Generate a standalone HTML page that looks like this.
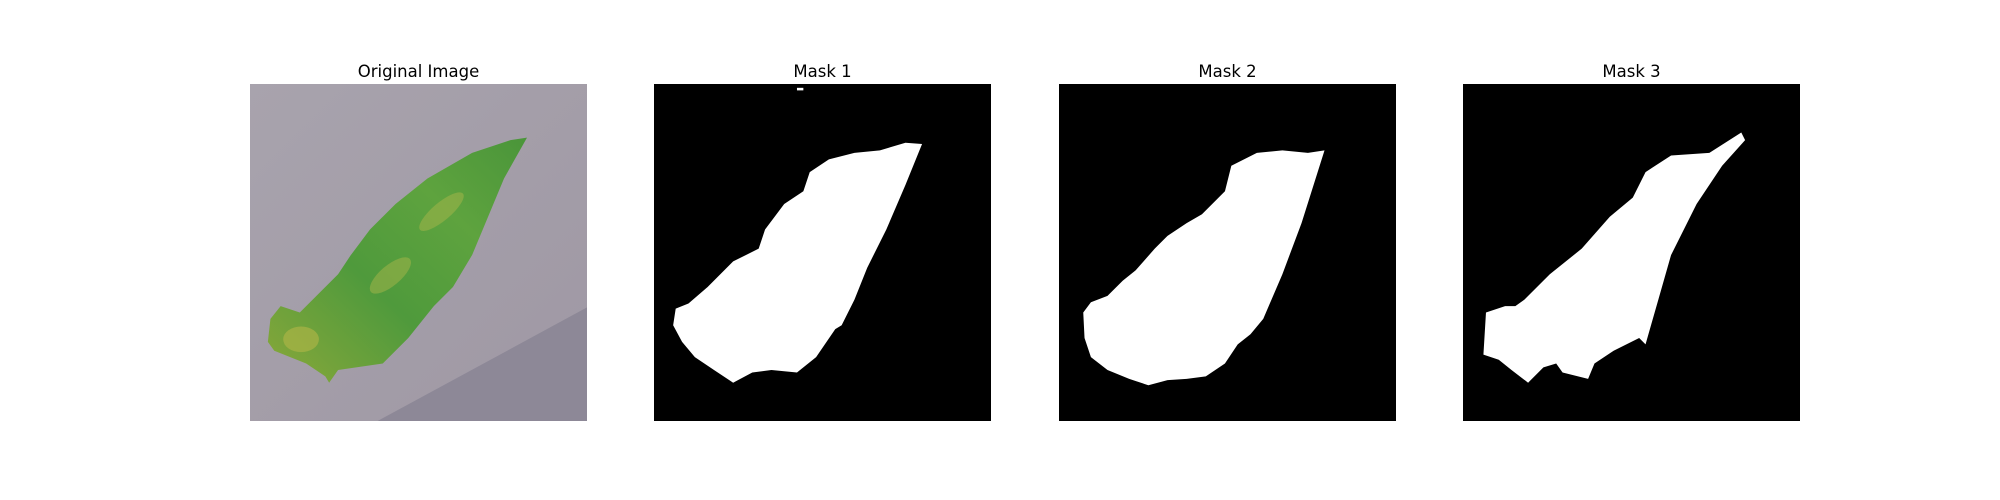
<!DOCTYPE html>
<html><head><meta charset="utf-8"><style>
body{margin:0;width:2000px;height:500px;background:#fff;font-family:"DejaVu Sans","Liberation Sans",sans-serif;position:relative;overflow:hidden}
.t{position:absolute;top:62px;width:337px;text-align:center;font-size:16.5px;color:#000}
svg{position:absolute;top:84px;width:337px;height:337px}
</style></head><body>
<div class="t" style="left:250px">Original Image</div>
<div class="t" style="left:654px">Mask 1</div>
<div class="t" style="left:1059px">Mask 2</div>
<div class="t" style="left:1463px">Mask 3</div>

<svg style="left:250px" viewBox="0 0 264 264">
<defs>
<linearGradient id="bg" x1="0" y1="0" x2="1" y2="1"><stop offset="0" stop-color="#a8a3ad"/><stop offset="1" stop-color="#9f98a4"/></linearGradient>
<linearGradient id="lf" x1="0" y1="1" x2="1" y2="0"><stop offset="0" stop-color="#8aa83a"/><stop offset="0.4" stop-color="#4f9a3c"/><stop offset="0.7" stop-color="#5ea33e"/><stop offset="1" stop-color="#4a953a"/></linearGradient>
</defs>
<rect width="264" height="264" fill="url(#bg)"/>
<polygon points="100,264 264,175 264,264" fill="#8d8897"/>
<polygon fill="url(#lf)" points="217,42 199,74 174,134 159,159 144,174 124,199 104,219 69,224 62,234 59,229 44,219 19,209 14,202 16,184 24,174 39,179 54,164 69,149 79,134 94,114 114,94 139,74 174,54 204,44"/>
<ellipse cx="40" cy="200" rx="14" ry="10" fill="#a9b346" opacity="0.7"/>
<ellipse cx="110" cy="150" rx="20" ry="8" fill="#a8b64a" opacity="0.5" transform="rotate(-40 110 150)"/>
<ellipse cx="150" cy="100" rx="22" ry="7" fill="#a8b64a" opacity="0.5" transform="rotate(-40 150 100)"/>
</svg>

<svg style="left:654px" viewBox="0 0 264 264">
<rect width="264" height="264" fill="#000"/>
<rect x="112" y="3" width="5" height="2" fill="#fff"/>
<polygon fill="#fff" points="210,47 197,79 182,114 167,144 157,169 147,189 142,192 127,214 112,226 92,224 77,226 62,234 47,224 32,214 22,202 15,189 17,176 27,172 42,159 62,139 82,129 87,114 102,94 117,84 122,69 137,59 157,54 177,52 197,46"/>
</svg>

<svg style="left:1059px" viewBox="0 0 264 264">
<rect width="264" height="264" fill="#000"/>
<polygon fill="#fff" points="208,52 190,109 175,149 160,184 150,196 140,204 130,219 115,229 100,231 85,232 70,236 55,231 38,224 25,214 20,199 19,179 25,171 38,166 50,154 60,146 75,129 85,119 100,109 112,102 130,84 135,64 155,54 175,52 195,54"/>
</svg>

<svg style="left:1463px" viewBox="0 0 264 264">
<rect width="264" height="264" fill="#000"/>
<polygon fill="#fff" points="218,38 193,54 163,56 143,69 133,89 115,104 93,129 68,149 48,169 41,174 33,174 18,179 16,212 28,216 38,224 51,234 63,222 73,219 78,226 98,231 103,219 118,209 138,199 143,204 153,169 163,134 183,94 203,64 221,44"/>
</svg>
</body></html>
